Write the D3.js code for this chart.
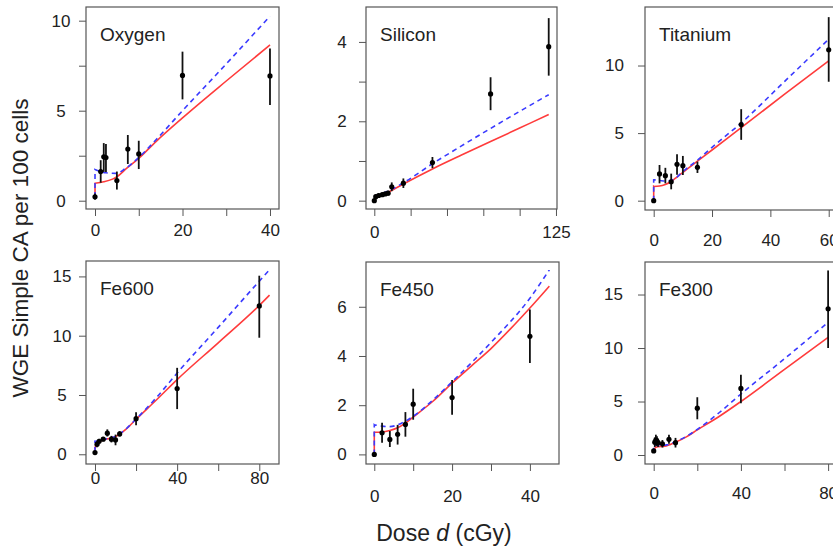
<!DOCTYPE html>
<html>
<head>
<meta charset="utf-8">
<script src="https://cdn.jsdelivr.net/npm/d3@7"></script>
<style>
  body { margin: 0; background: #fff; }
  svg text { font-family: "Liberation Sans", Arial, Helvetica, sans-serif; fill: #222; }
</style>
</head>
<body>
<svg width="833" height="546"></svg>
<script>
// ---- data ----

// Oxygen
var oxygenDose = [0, 1.3, 2, 2.5, 5, 7.5, 10, 20, 40];
var oxygenMean = [0.22, 1.62, 2.44, 2.4, 1.12, 2.87, 2.6, 6.96, 6.93];
var oxygenLo   = [0.05, 1.0, 1.6, 1.6, 0.62, 2.04, 1.76, 5.63, 5.31];
var oxygenHi   = [0.4, 2.25, 3.2, 3.15, 1.62, 3.65, 3.33, 8.28, 8.46];
var oxygenRed  = [[0,0.2],[0,0.97],[2,1.05],[4,1.2],[5,1.33],[7,1.75],[10,2.35],[14,3.3],[20,4.6],[30,6.65],[40,8.65]];
var oxygenBlue = [[0,0.2],[0,1.74],[1,1.65],[2.5,1.55],[4.8,1.52],[7,1.8],[10,2.4],[14,3.4],[20,5.0],[30,7.6],[40,10.25]];

// Silicon
var siliconDose = [0, 1, 3, 5.5, 7.5, 9.5, 12, 20, 40, 80, 120];
var siliconMean = [0, 0.1, 0.13, 0.15, 0.17, 0.19, 0.35, 0.44, 0.96, 2.69, 3.88];
var siliconLo   = [0, 0.05, 0.08, 0.1, 0.12, 0.13, 0.24, 0.32, 0.82, 2.28, 3.15];
var siliconHi   = [0, 0.15, 0.18, 0.2, 0.22, 0.25, 0.46, 0.56, 1.1, 3.11, 4.6];
var siliconRed  = [[0,0.07],[10,0.22],[20,0.42],[40,0.8],[60,1.15],[80,1.49],[100,1.83],[120,2.17]];
var siliconBlue = [[0,0.12],[10,0.25],[20,0.45],[40,0.93],[60,1.38],[80,1.82],[100,2.25],[120,2.67]];

// Titanium
var titaniumDose = [0, 2, 4, 6, 8, 10, 15, 30, 60];
var titaniumMean = [0, 1.98, 1.85, 1.4, 2.69, 2.59, 2.47, 5.63, 11.16];
var titaniumLo   = [0, 1.28, 1.28, 0.84, 1.91, 1.9, 2.05, 4.5, 8.8];
var titaniumHi   = [0, 2.64, 2.43, 2.0, 3.44, 3.31, 2.89, 6.77, 13.58];
var titaniumRed  = [[0,0],[0,1.05],[2,1.08],[4,1.2],[6,1.42],[8,1.75],[10,2.1],[15,2.92],[20,3.75],[30,5.4],[45,7.9],[60,10.35]];
var titaniumBlue = [[0,0],[0,1.55],[2,1.5],[4,1.45],[6,1.5],[8,1.75],[10,2.15],[15,3.0],[20,3.95],[30,5.75],[45,8.85],[60,11.95]];

// Fe600
var fe600Dose = [0, 1, 2, 4, 6, 8, 10, 12, 20, 40, 80];
var fe600Mean = [0.14, 0.85, 1.1, 1.27, 1.78, 1.27, 1.21, 1.72, 3.0, 5.54, 12.51];
var fe600Lo   = [0.05, 0.6, 0.9, 1.1, 1.5, 1.0, 0.76, 1.5, 2.45, 3.81, 9.83];
var fe600Hi   = [0.25, 1.1, 1.3, 1.45, 2.1, 1.55, 1.66, 1.95, 3.55, 7.29, 15.06];
var fe600Red  = [[0,0.2],[0.3,0.75],[1,0.95],[2,1.05],[4,1.2],[6,1.3],[8,1.38],[10,1.5],[12,1.7],[15,2.1],[20,2.95],[30,4.6],[40,6.3],[60,9.4],[80,12.55],[85,13.42]];
var fe600Blue = [[0,0.2],[0,1.1],[1,1.12],[4,1.25],[8,1.4],[10,1.5],[12,1.72],[15,2.12],[20,2.97],[30,4.8],[40,6.85],[60,10.7],[80,14.6],[85,15.56]];

// Fe450
var fe450Dose = [0, 2, 4, 6, 8, 10, 20, 40];
var fe450Mean = [0, 0.88, 0.61, 0.82, 1.22, 2.04, 2.31, 4.8];
var fe450Lo   = [0, 0.47, 0.3, 0.4, 0.72, 1.41, 1.61, 3.71];
var fe450Hi   = [0, 1.29, 0.95, 1.2, 1.72, 2.67, 3.02, 5.89];
var fe450Red  = [[0,0],[0,0.9],[2,0.91],[4,0.97],[6,1.08],[8,1.27],[10,1.52],[15,2.15],[20,2.9],[25,3.6],[30,4.3],[35,5.1],[40,5.95],[45,6.84]];
var fe450Blue = [[0,0],[0,1.2],[2,1.15],[4,1.13],[6,1.2],[8,1.35],[10,1.55],[15,2.2],[20,2.95],[30,4.55],[40,6.35],[45,7.5]];

// Fe300
var fe300Dose = [0, 0.5, 1, 1.5, 2, 4, 7, 10, 20, 40, 80];
var fe300Mean = [0.38, 1.2, 1.4, 1.3, 1.15, 1.05, 1.47, 1.15, 4.38, 6.22, 13.66];
var fe300Lo   = [0.2, 0.75, 0.9, 0.85, 0.75, 0.7, 1.05, 0.7, 3.34, 4.84, 10.0];
var fe300Hi   = [0.55, 1.65, 1.9, 1.75, 1.55, 1.4, 1.9, 1.6, 5.4, 7.5, 17.25];
var fe300Red  = [[0,0.2],[0.5,0.6],[1,0.72],[2,0.78],[5,0.82],[10,1.2],[15,1.7],[20,2.35],[30,3.6],[40,5.0],[60,8.0],[80,11.0]];
var fe300Blue = [[0,0.2],[0,0.95],[1,0.92],[3,0.9],[6,0.95],[10,1.25],[15,1.75],[20,2.4],[30,3.95],[40,5.7],[60,9.0],[80,12.4]];

// ---- panel layout ----
var panels = [
  { name: "Oxygen", dose: oxygenDose, mean: oxygenMean, lo: oxygenLo, hi: oxygenHi, red: oxygenRed, blue: oxygenBlue,
    box: [86, 279, 7, 209], xDom: [-2.06, 42.06], yDom: [-0.46, 10.76],
    xTicks: [0, 10, 20, 30, 40], xLab: [0, 20, 40], yTicks: [0, 2.5, 5, 7.5, 10], yLab: [0, 5, 10],
    xPad: 8, yAnchor: "middle", yOff: 25 },
  { name: "Silicon", dose: siliconDose, mean: siliconMean, lo: siliconLo, hi: siliconHi, red: siliconRed, blue: siliconBlue,
    box: [366, 557, 7, 209], xDom: [-5.71, 125.7], yDom: [-0.21, 4.88],
    xTicks: [0, 25, 50, 75, 100, 125], xLab: [0, 125], yTicks: [0, 1, 2, 3, 4], yLab: [0, 2, 4],
    xPad: 10, yAnchor: "middle", yOff: 24 },
  { name: "Titanium", dose: titaniumDose, mean: titaniumMean, lo: titaniumLo, hi: titaniumHi, red: titaniumRed, blue: titaniumBlue,
    box: [645, 836, 7, 210], xDom: [-2.98, 62.5], yDom: [-0.69, 14.33],
    xTicks: [0, 20, 40, 60], xLab: [0, 20, 40, 60], yTicks: [0, 5, 10], yLab: [0, 5, 10],
    xPad: 17, yAnchor: "end", yOff: 21 },
  { name: "Fe600", dose: fe600Dose, mean: fe600Mean, lo: fe600Lo, hi: fe600Hi, red: fe600Red, blue: fe600Blue,
    box: [86, 279, 261, 464], xDom: [-4.38, 89.6], yDom: [-0.82, 16.3],
    xTicks: [0, 20, 40, 60, 80], xLab: [0, 40, 80], yTicks: [0, 5, 10, 15], yLab: [0, 5, 10, 15],
    xPad: 1, yAnchor: "middle", yOff: 24 },
  { name: "Fe450", dose: fe450Dose, mean: fe450Mean, lo: fe450Lo, hi: fe450Hi, red: fe450Red, blue: fe450Blue,
    box: [366, 559, 262, 464], xDom: [-2.13, 47.48], yDom: [-0.39, 7.82],
    xTicks: [0, 10, 20, 30, 40], xLab: [0, 20, 40], yTicks: [0, 2, 4, 6], yLab: [0, 2, 4, 6],
    xPad: 19, yAnchor: "middle", yOff: 24 },
  { name: "Fe300", dose: fe300Dose, mean: fe300Mean, lo: fe300Lo, hi: fe300Hi, red: fe300Red, blue: fe300Blue,
    box: [645, 840, 262, 464], xDom: [-3.99, 85.45], yDom: [-0.84, 18.04],
    xTicks: [0, 20, 40, 60, 80], xLab: [0, 40, 80], yTicks: [0, 5, 10, 15], yLab: [0, 5, 10, 15],
    xPad: 16, yAnchor: "end", yOff: 22 }
];

var svg = d3.select("svg");

panels.forEach(function(p) {
  var l = p.box[0], r = p.box[1], t = p.box[2], b = p.box[3];
  var x = d3.scaleLinear().domain(p.xDom).range([l, r]);
  var y = d3.scaleLinear().domain(p.yDom).range([b, t]);
  var g = svg.append("g");

  // x axis
  var xa = g.append("g")
    .attr("transform", "translate(0," + b + ")")
    .call(d3.axisBottom(x).tickValues(p.xTicks).tickSize(7).tickPadding(p.xPad)
      .tickFormat(function(d) { return p.xLab.indexOf(d) >= 0 ? d : ""; }));
  xa.select(".domain").remove();
  xa.selectAll("line").attr("stroke", "#555");
  xa.selectAll("text").attr("font-size", "17px").attr("fill", "#222")
    .style("font-family", "'Liberation Sans', Arial, sans-serif");

  // y axis
  var ya = g.append("g")
    .attr("transform", "translate(" + l + ",0)")
    .call(d3.axisLeft(y).tickValues(p.yTicks).tickSize(7)
      .tickFormat(function(d) { return p.yLab.indexOf(d) >= 0 ? d : ""; }));
  ya.select(".domain").remove();
  ya.selectAll("line").attr("stroke", "#555");
  ya.selectAll("text").attr("font-size", "17px").attr("fill", "#222")
    .attr("text-anchor", p.yAnchor).attr("x", -p.yOff)
    .style("font-family", "'Liberation Sans', Arial, sans-serif");

  // box
  g.append("rect")
    .attr("x", l).attr("y", t)
    .attr("width", r - l).attr("height", b - t)
    .attr("fill", "none").attr("stroke", "#555").attr("stroke-width", 1.2);

  var straight = d3.line()
    .x(function(d) { return x(d[0]); })
    .y(function(d) { return y(d[1]); });
  var smooth = d3.line()
    .curve(d3.curveMonotoneX)
    .x(function(d) { return x(d[0]); })
    .y(function(d) { return y(d[1]); });

  // vertical jump at zero dose (if any) drawn straight, the rest smooth
  function curvePath(pts) {
    if (pts.length > 1 && pts[0][0] === pts[1][0]) {
      return straight(pts.slice(0, 2)) + smooth(pts.slice(1)).replace(/^M[^CL]*/, "L" + x(pts[1][0]) + "," + y(pts[1][1]));
    }
    return smooth(pts);
  }

  // fitted curves: red solid, blue dashed on top
  g.append("path")
    .datum(p.red)
    .attr("fill", "none")
    .attr("stroke", "#ff3b3b")
    .attr("stroke-width", 1.6)
    .attr("d", curvePath);

  g.append("path")
    .datum(p.blue)
    .attr("fill", "none")
    .attr("stroke", "#3a3aff")
    .attr("stroke-width", 1.6)
    .attr("stroke-dasharray", "5,4")
    .attr("d", curvePath);

  // error bars
  g.selectAll(".err")
    .data(p.dose)
    .enter().append("line")
    .attr("x1", function(d) { return x(d); })
    .attr("x2", function(d) { return x(d); })
    .attr("y1", function(d, i) { return y(p.lo[i]); })
    .attr("y2", function(d, i) { return y(p.hi[i]); })
    .attr("stroke", "#111")
    .attr("stroke-width", 1.8);

  // means
  g.selectAll(".pt")
    .data(p.dose)
    .enter().append("circle")
    .attr("cx", function(d) { return x(d); })
    .attr("cy", function(d, i) { return y(p.mean[i]); })
    .attr("r", 2.6)
    .attr("fill", "#000");

  // panel title
  g.append("text")
    .attr("x", l + 14)
    .attr("y", t + 34)
    .attr("font-size", "19px")
    .text(p.name);
});

// axis titles
svg.append("text")
  .attr("transform", "translate(28,248) rotate(-90)")
  .attr("text-anchor", "middle")
  .attr("font-size", "22.5px")
  .text("WGE Simple CA per 100 cells");

var xt = svg.append("text")
  .attr("x", 444)
  .attr("y", 541)
  .attr("text-anchor", "middle")
  .attr("font-size", "23px");
xt.append("tspan").text("Dose ");
xt.append("tspan").attr("font-style", "italic").text("d");
xt.append("tspan").text(" (cGy)");
</script>
</body>
</html>
